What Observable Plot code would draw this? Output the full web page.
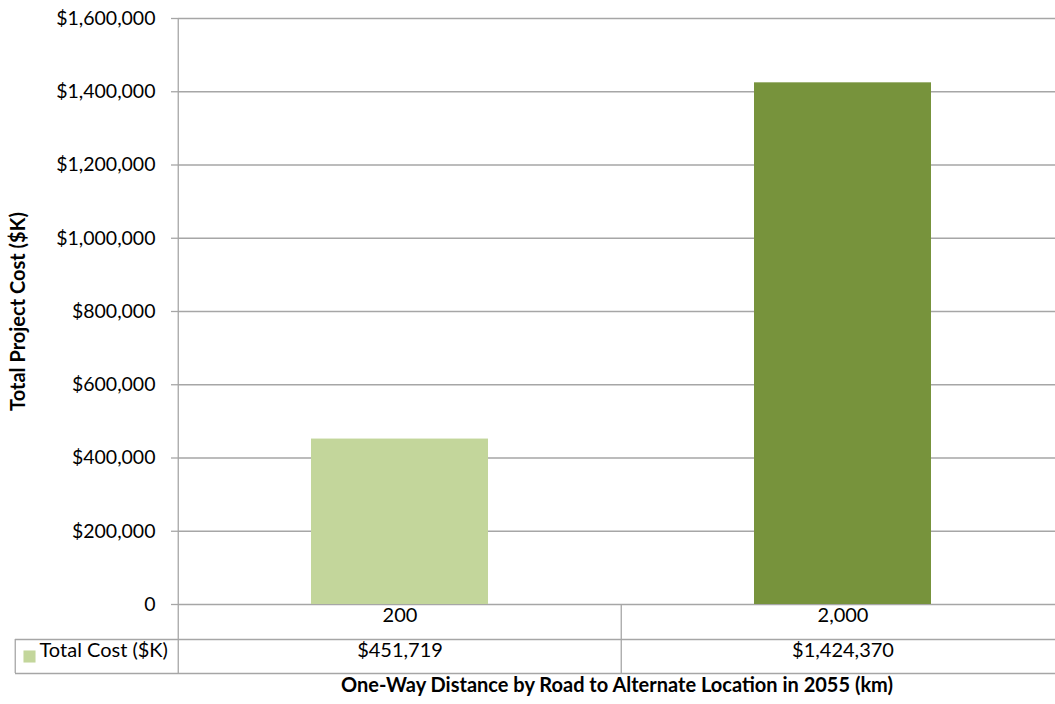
<!DOCTYPE html>
<html>
<head>
<meta charset="utf-8">
<script src="https://cdn.jsdelivr.net/npm/d3@7"></script>
<script src="https://cdn.jsdelivr.net/npm/@observablehq/plot@0.6"></script>
<style>
  html, body { margin: 0; padding: 0; background: #fff; overflow: hidden; }
</style>
</head>
<body>
<div id="chart"></div>
<script>
// Categories (one-way distance, km) and the series plotted against them
const categories = ["200", "2,000"];
const totalCost = [451719, 1424370];
const seriesName = "Total Cost ($K)";
const yTicks = [0, 200000, 400000, 600000, 800000, 1000000, 1200000, 1400000, 1600000];
const xTitle = "One-Way Distance by Road to Alternate Location in 2055 (km)";
const yTitle = "Total Project Cost ($K)";
const barColors = ["#c3d69b", "#77933c"];

const data = categories.map((c, i) => ({distance: c, cost: totalCost[i]}));

// Layout
const W = 1055, H = 704;
const mTop = 18, mBottom = 100, mLeft = 178;
const xRange = [mLeft, 1065];               // plot area runs slightly past the right edge
const step = (xRange[1] - xRange[0]) / categories.length;
const rowH = 35;                             // data-table row height
const grid = "#a6a6a6";
const money = d3.format("$,");
const tickFmt = d => d === 0 ? "0" : money(d);

const plot = Plot.plot({
  width: W,
  height: H,
  marginTop: mTop,
  marginBottom: mBottom,
  marginLeft: mLeft,
  marginRight: 0,
  style: {fontFamily: "Lato, 'Open Sans', sans-serif", fontSize: "20px", color: "#000", background: "#fff"},
  x: {type: "band", domain: categories, range: xRange, paddingInner: 0.6, paddingOuter: 0.3, axis: null},
  y: {domain: [0, 1600000], axis: null},
  color: {domain: categories, range: barColors},
  marks: [
    Plot.gridY(yTicks, {stroke: grid, strokeOpacity: 1, strokeWidth: 1.3}),
    Plot.barY(data, {x: "distance", y: "cost", fill: "distance"}),
    Plot.axisY(yTicks, {tickSize: 7, tickPadding: 16, tickFormat: tickFmt, stroke: grid, strokeWidth: 1.3, label: null, fill: "#000", fontSize: 19.5}),

    // data table grid
    Plot.ruleX([categories[0]], {dx: -step / 2, insetBottom: -2 * rowH + 1, stroke: grid, strokeWidth: 1.3}),
    Plot.ruleX([categories[1]], {dx: -step / 2, insetTop: H - mTop - mBottom, insetBottom: -2 * rowH + 1, stroke: grid, strokeWidth: 1.3}),
    Plot.ruleX([categories[0]], {dx: -step / 2 - 163, insetTop: H - mTop - mBottom + rowH, insetBottom: -2 * rowH + 1, stroke: grid, strokeWidth: 1.3}),
    Plot.ruleY([0], {dy: rowH, insetLeft: -163, stroke: grid, strokeWidth: 1.3}),
    Plot.ruleY([0], {dy: 2 * rowH - 1, insetLeft: -163, stroke: grid, strokeWidth: 1.3}),

    // data table contents
    Plot.text(categories, {x: d => d, frameAnchor: "bottom", dy: 17, fill: "#000"}),
    Plot.text(data, {x: "distance", text: d => money(d.cost), frameAnchor: "bottom", dy: 52, fill: "#000"}),
    Plot.dot([seriesName], {frameAnchor: "bottom-left", dx: -149, dy: 52, symbol: "square", r: 6.8, fill: barColors[0], stroke: null}),
    Plot.text([seriesName], {frameAnchor: "bottom-left", dx: -139, dy: 52, textAnchor: "start", fill: "#000"}),

    // axis titles
    Plot.text([xTitle], {frameAnchor: "bottom", dy: 87, fontWeight: "bold", fill: "#000"}),
    Plot.text([yTitle], {frameAnchor: "left", dx: -160, rotate: -90, textAnchor: "middle", fontWeight: "bold", fill: "#000"})
  ]
});

document.getElementById("chart").appendChild(plot);
</script>
</body>
</html>
